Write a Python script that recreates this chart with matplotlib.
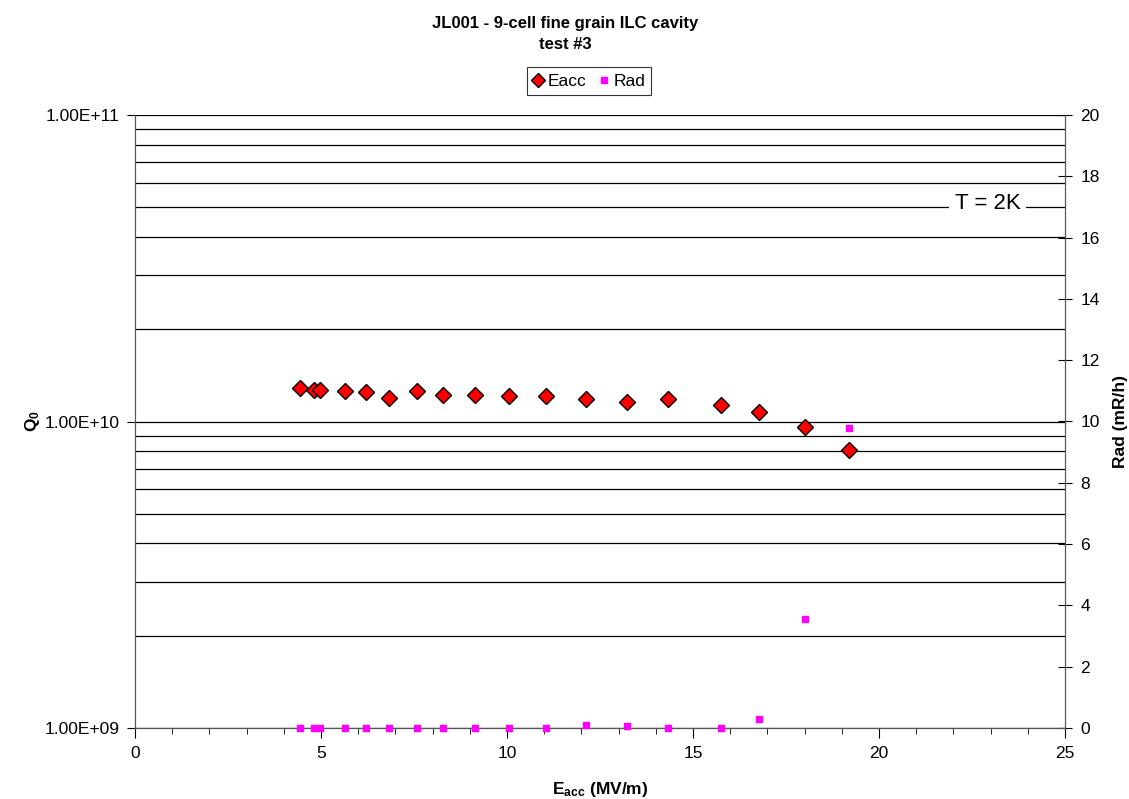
import math
import matplotlib
matplotlib.use("Agg")
import matplotlib.pyplot as plt
from matplotlib.ticker import MultipleLocator, LogLocator, NullFormatter, FuncFormatter

plt.rcParams['font.family'] = ['Liberation Sans', 'DejaVu Sans']
plt.rcParams['mathtext.fontset'] = 'custom'
plt.rcParams['mathtext.rm'] = 'Liberation Sans'
plt.rcParams['mathtext.bf'] = 'Liberation Sans:bold'

eacc = [4.44, 4.80, 4.96, 5.65, 6.21, 6.84, 7.57, 8.28, 9.15, 10.06, 11.05, 12.12, 13.23, 14.33, 15.76, 16.77, 18.01, 19.19]
q0 = [1.29e10, 1.27e10, 1.27e10, 1.26e10, 1.25e10, 1.19e10, 1.26e10, 1.22e10, 1.22e10, 1.21e10, 1.21e10,
      1.18e10, 1.16e10, 1.18e10, 1.13e10, 1.07e10, 9.6e9, 8.1e9]
rad = [0, 0, 0, 0, 0, 0, 0, 0, 0, 0, 0, 0.10, 0.06, 0, 0, 0.30, 3.56, 9.80]

title = "JL001 - 9-cell fine grain ILC cavity\ntest #3"
note = "T = 2K"


def sci(v, p):
    e = int(round(math.log10(v)))
    return "%.2fE+%02d" % (v / 10**e, e)


FS = 12.5
fig = plt.figure(figsize=(11.29, 7.99), dpi=100)
ax = fig.add_axes([135/1129, 1-728/799, 930/1129, 613/799])
ax.set_yscale('log')
ax.set_xlim(0, 25)
ax.set_ylim(1e9, 1e11)

ax.yaxis.set_major_locator(LogLocator(base=10, numticks=5))
ax.yaxis.set_minor_locator(LogLocator(base=10, subs=range(2, 10), numticks=20))
ax.yaxis.set_minor_formatter(NullFormatter())
ax.yaxis.set_major_formatter(FuncFormatter(sci))
ax.grid(True, which='both', axis='y', color='black', linewidth=0.9)
ax.tick_params(axis='y', which='minor', length=0)
ax.tick_params(axis='y', which='major', direction='out', length=6, pad=5, labelsize=FS)

ax.xaxis.set_major_locator(MultipleLocator(5))
ax.xaxis.set_minor_locator(MultipleLocator(1))
ax.tick_params(axis='x', which='major', direction='out', length=7, pad=6, labelsize=FS)
ax.tick_params(axis='x', which='minor', direction='out', length=4)

for s in ax.spines.values():
    s.set_color('#555555')
ax.spines['top'].set_visible(False)

l1, = ax.plot(eacc, q0, linestyle='none', marker='D', markersize=8, markerfacecolor='red',
              markeredgecolor='black', markeredgewidth=1, label='Eacc', zorder=5, clip_on=False)

ax2 = ax.twinx()
ax2.set_ylim(0, 20)
ax2.yaxis.set_major_locator(MultipleLocator(2))
ax2.tick_params(axis='y', direction='inout', length=10, pad=6, labelsize=FS)
for s in ax2.spines.values():
    s.set_color('#555555')
ax2.spines['top'].set_visible(False)
l2, = ax2.plot(eacc, rad, linestyle='none', marker='s', markersize=5, color='#ff00ff',
               label='Rad', zorder=5, clip_on=False)

ax.set_xlabel(r"$\mathbf{E_{acc}}$ (MV/m)", fontsize=FS, fontweight='bold')
ax.xaxis.set_label_coords(0.5, -0.085)
ax.set_ylabel(r"$\mathbf{Q_0}$", fontsize=FS, fontweight='bold')
ax.yaxis.set_label_coords(-0.10, 0.5)
ax2.set_ylabel("Rad (mR/h)", fontsize=FS, fontweight='bold')
ax2.yaxis.set_label_coords(1.052, 0.5)

fig.text(565/1129, 1-34/799, title, ha='center', va='center', fontsize=12, fontweight='bold', linespacing=1.45)

leg = fig.legend([l1, l2], ['Eacc', 'Rad'], loc='center', bbox_to_anchor=(589/1129, 1-81/799), ncol=2,
                 frameon=True, fancybox=False, edgecolor='black', fontsize=FS, handlelength=0.6,
                 handletextpad=0.25, columnspacing=0.7, borderpad=0.35, markerscale=0.9)
leg.get_frame().set_linewidth(0.8)

ax2.text(0.917, 0.855, note, transform=ax2.transAxes, ha='center', va='center', fontsize=16,
         bbox=dict(facecolor='white', edgecolor='none', pad=4), zorder=10)

fig.savefig("out.png", dpi=100)
